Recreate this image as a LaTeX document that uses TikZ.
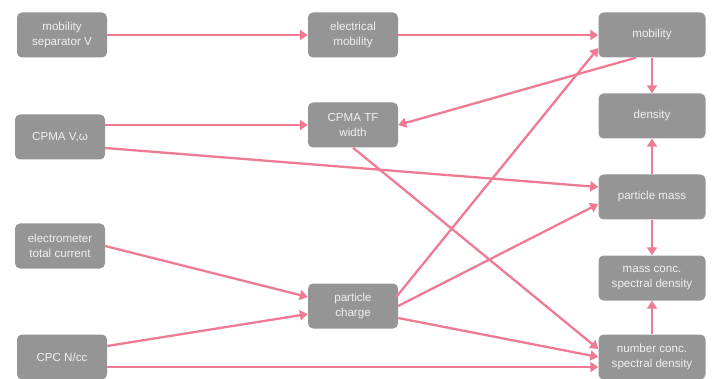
\documentclass[tikz,border=0pt]{standalone}
\usepackage{fontspec}
\setmainfont{Liberation Sans}
\usetikzlibrary{arrows.meta}

\definecolor{boxgray}{RGB}{149,149,150}
\definecolor{boxtext}{RGB}{240,240,240}
\definecolor{linkpink}{RGB}{238,122,148}

\tikzset{
	qty/.style={fill=boxgray, rounded corners=5pt, text=boxtext, align=center,
		minimum width=90pt, minimum height=45pt, inner sep=2pt,
		font=\fontsize{11.6pt}{14.5pt}\selectfont},
	wide/.style={qty, minimum width=107pt},
	link/.style={draw=linkpink, line width=2.3pt,
		-{Triangle[width=10pt,length=8pt]}}
}

\begin{document}
\begin{tikzpicture}[x=1pt,y=-1pt]
				\useasboundingbox (0,0) rectangle (714,379);

				% inputs
				\node[qty] (msv) at (62,35) {mobility\\separator V};
				\node[qty] (cpmav) at (60,137) {CPMA V,ω};
				\node[qty] (elec) at (60,246) {electrometer\\total current};
				\node[qty] (cpc) at (62,357) {CPC N/cc};

				% intermediate
				\node[qty] (emob) at (353,35) {electrical\\mobility};
				\node[qty] (tfw) at (353,125) {CPMA TF\\width};
				\node[qty] (charge) at (353,306) {particle\\charge};

				% outputs
				\node[wide] (mob) at (652,35) {mobility};
				\node[wide] (dens) at (652,116) {density};
				\node[wide] (mass) at (652,197) {particle mass};
				\node[wide] (mconc) at (652,278) {mass conc.\\spectral density};
				\node[wide] (nconc) at (652,357) {number conc.\\spectral density};

				\draw [link](msv) -- (emob);
				\draw [link](emob) -- (mob);
				\draw [link]([xshift=-16pt]mob.south) -- (tfw.east);
				\draw [link](mob) -- (dens);
				\draw [link](mass) -- (dens);
				\draw [link](mass) -- (mconc);
				\draw [link](nconc) -- (mconc);
				\draw [link]([yshift=12pt]cpmav.east) -- (tfw.west);
				\draw [link]([yshift=-11pt]cpmav.east) -- ([yshift=10pt]mass.west);
				\draw [link](tfw.south) -- ([yshift=8pt]nconc.west);
				\draw [link](elec.east) -- ([yshift=9pt]charge.west);
				\draw [link]([yshift=11pt]cpc.east) -- ([yshift=-8pt]charge.west);
				\draw [link]([yshift=-10pt]cpc.east) -- ([yshift=-10pt]nconc.west);
				\draw [link]([xshift=-2pt,yshift=9pt]charge.east) -- ([yshift=-13pt]mob.west);
				\draw [link](charge.east) -- ([yshift=-7pt]mass.west);
				\draw [link]([yshift=-12pt]charge.east) -- (nconc.west);
			\end{tikzpicture}
\end{document}
